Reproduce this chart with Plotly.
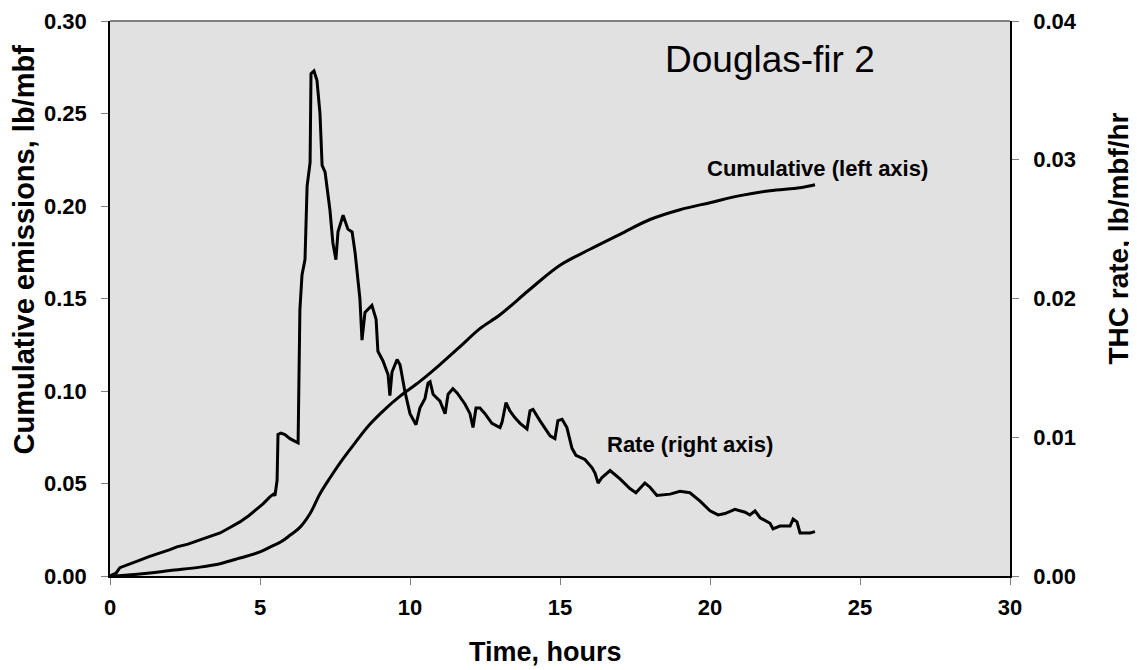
import plotly.graph_objects as go

# cumulative emissions (left axis), lb/mbf
cum_hours = [0, 0.5, 1.33, 2, 3, 3.7, 4.33, 5, 5.33, 5.7, 6, 6.33, 6.67, 7, 7.33, 7.67,
             8.17, 8.67, 9.17, 9.67, 10.33, 11, 11.67, 12.33, 13, 14, 15, 16, 17, 18,
             19, 20, 21, 22, 23, 23.5]
cum_vals = [0, 0.0004, 0.0016, 0.003, 0.0048, 0.0068, 0.0097, 0.013, 0.0156, 0.0185, 0.022,
            0.0263, 0.0338, 0.0445, 0.053, 0.0612, 0.072, 0.0821, 0.0902, 0.0972, 0.1052,
            0.1143, 0.124, 0.1337, 0.1412, 0.155, 0.168, 0.1766, 0.1847, 0.1927, 0.198,
            0.2018, 0.2056, 0.2083, 0.2099, 0.2115]

# THC rate (right axis), lb/mbf/hr
rate_hours = [0, 0.2, 0.33, 0.6, 1.0, 1.3, 1.67, 2.0, 2.23, 2.6, 3.0, 3.3, 3.67, 4.0, 4.33,
              4.6, 4.83, 5.1, 5.33, 5.45, 5.5, 5.57, 5.6, 5.7, 5.83, 6.0, 6.17, 6.27,
              6.33, 6.4, 6.5, 6.57, 6.67, 6.7, 6.8, 6.9, 7.0, 7.07, 7.17, 7.33, 7.43,
              7.53, 7.6, 7.77, 7.93, 8.07, 8.17, 8.33, 8.4, 8.5, 8.73, 8.87, 8.93, 9.1,
              9.27, 9.33, 9.4, 9.57, 9.67, 9.83, 10.0, 10.2, 10.33, 10.5, 10.6, 10.67,
              10.77, 11.0, 11.17, 11.27, 11.43, 11.57, 11.83, 12.0, 12.1, 12.2, 12.33,
              12.5, 12.73, 13.0, 13.07, 13.2, 13.33, 13.5, 13.67, 13.9, 14.0, 14.1,
              14.33, 14.5, 14.67, 14.83, 14.93, 15.07, 15.23, 15.4, 15.53, 15.83,
              16.07, 16.17, 16.27, 16.4, 16.67, 17.0, 17.33, 17.53, 17.83, 18.0,
              18.23, 18.67, 19.0, 19.33, 19.67, 20.0, 20.27, 20.5, 20.83, 21.17,
              21.33, 21.5, 21.67, 22.0, 22.1, 22.33, 22.67, 22.77, 22.9, 23.0,
              23.33, 23.5]
rate_vals = [0, 0.0002, 0.0006, 0.0008, 0.00115, 0.0014, 0.00165, 0.0019, 0.0021, 0.0023,
             0.0026, 0.0028, 0.0031, 0.0035, 0.0039, 0.0043, 0.0047, 0.0052, 0.0057,
             0.0059, 0.0058, 0.0069, 0.0102, 0.0103, 0.0102, 0.0099, 0.0097, 0.0096,
             0.0192, 0.0217, 0.0228, 0.0281, 0.0298, 0.0362, 0.0364, 0.0357, 0.0333,
             0.0296, 0.0291, 0.0264, 0.0240, 0.0228, 0.0248, 0.0260, 0.0250, 0.0248,
             0.0233, 0.0200, 0.0170, 0.0190, 0.0195, 0.0185, 0.0162, 0.0155, 0.0145,
             0.0130, 0.0147, 0.0156, 0.0152, 0.0133, 0.0117, 0.0109, 0.0121, 0.0128,
             0.0139, 0.0140, 0.0131, 0.0126, 0.0117, 0.0131, 0.0135, 0.0132, 0.0124,
             0.0117, 0.0107, 0.0121, 0.0121, 0.0117, 0.0110, 0.0107, 0.0111, 0.0125,
             0.0119, 0.0114, 0.0110, 0.0106, 0.0119, 0.0120, 0.0112, 0.0106, 0.0101,
             0.0099, 0.0112, 0.0113, 0.0107, 0.0092, 0.0087, 0.0084, 0.0078, 0.0074,
             0.0067, 0.0071, 0.0076, 0.0070, 0.0063, 0.0060, 0.0067, 0.0064, 0.0058,
             0.0059, 0.0061, 0.0060, 0.0054, 0.0047, 0.0044, 0.0045, 0.0048, 0.0046,
             0.0044, 0.0047, 0.0042, 0.0038, 0.0034, 0.0036, 0.0036, 0.0041, 0.0039,
             0.0031, 0.0031, 0.0032]

x_ticks = [0, 5, 10, 15, 20, 25, 30]
left_ticks = [0, 0.05, 0.10, 0.15, 0.20, 0.25, 0.30]
right_ticks = [0, 0.01, 0.02, 0.03, 0.04]

FONT = "Arial, Liberation Sans, sans-serif"

fig = go.Figure()
fig.add_trace(go.Scatter(x=cum_hours, y=cum_vals, mode="lines", line=dict(color="black", width=3),
                         line_shape="spline", showlegend=False))
fig.add_trace(go.Scatter(x=rate_hours, y=rate_vals, mode="lines", yaxis="y2",
                         line=dict(color="black", width=3), showlegend=False))

axis_common = dict(ticks="outside", ticklen=7, tickcolor="#808080", showgrid=False, zeroline=False,
                   showline=True, linecolor="black", linewidth=1.5, ticklabeloverflow="allow",
                   automargin=False, tickfont=dict(family=FONT, size=22, color="black"))

fig.update_layout(
    width=1137, height=670,
    # body has an 8px margin in the page, so shift margins to compensate
    margin=dict(l=102, r=135, t=13, b=102),
    paper_bgcolor="white", plot_bgcolor="#e1e1e1",
    font=dict(family=FONT, color="black"),
    xaxis=dict(range=[0, 30], tickvals=x_ticks, ticktext=["<b>%d</b>" % t for t in x_ticks],
               ticklabelstandoff=4, **axis_common),
    yaxis=dict(range=[0, 0.30], tickvals=left_ticks, ticktext=["<b>%.2f</b>" % t for t in left_ticks],
               ticklabelstandoff=10, **axis_common),
    yaxis2=dict(range=[0, 0.04], tickvals=right_ticks, ticktext=["<b>%.2f</b>" % t for t in right_ticks],
                overlaying="y", side="right", ticklabelstandoff=10, **axis_common),
)

# top border of plot frame
fig.add_shape(type="line", xref="paper", yref="paper", x0=0, x1=1, y0=1, y1=1,
              line=dict(color="#808080", width=2))

# axis titles
fig.add_annotation(xref="paper", yref="paper", x=0.5, y=0, xshift=-15, yshift=-76,
                   xanchor="center", yanchor="middle",
                   text="<b>Time, hours</b>", showarrow=False, font=dict(size=27))
fig.add_annotation(xref="paper", yref="paper", x=0, y=0.5, xshift=-87, yshift=49, textangle=-90,
                   xanchor="center", yanchor="middle",
                   text="<b>Cumulative emissions, lb/mbf</b>", showarrow=False, font=dict(size=29))
fig.add_annotation(xref="paper", yref="paper", x=1, y=0.5, xshift=108, yshift=60, textangle=-90,
                   xanchor="center", yanchor="middle",
                   text="<b>THC rate, lb/mbf/hr</b>", showarrow=False, font=dict(size=28))

fig.add_annotation(x=22, y=0.279, text="Douglas-fir 2", showarrow=False,
                   font=dict(family=FONT, size=37, color="black"))
fig.add_annotation(x=23.57, y=0.2205, text="<b>Cumulative (left axis)</b>", showarrow=False,
                   font=dict(family=FONT, size=22, color="black"))
fig.add_annotation(x=19.32, y=0.0095, yref="y2", text="<b>Rate (right axis)</b>", showarrow=False,
                   font=dict(family=FONT, size=22, color="black"))

fig.write_html("out.html")
